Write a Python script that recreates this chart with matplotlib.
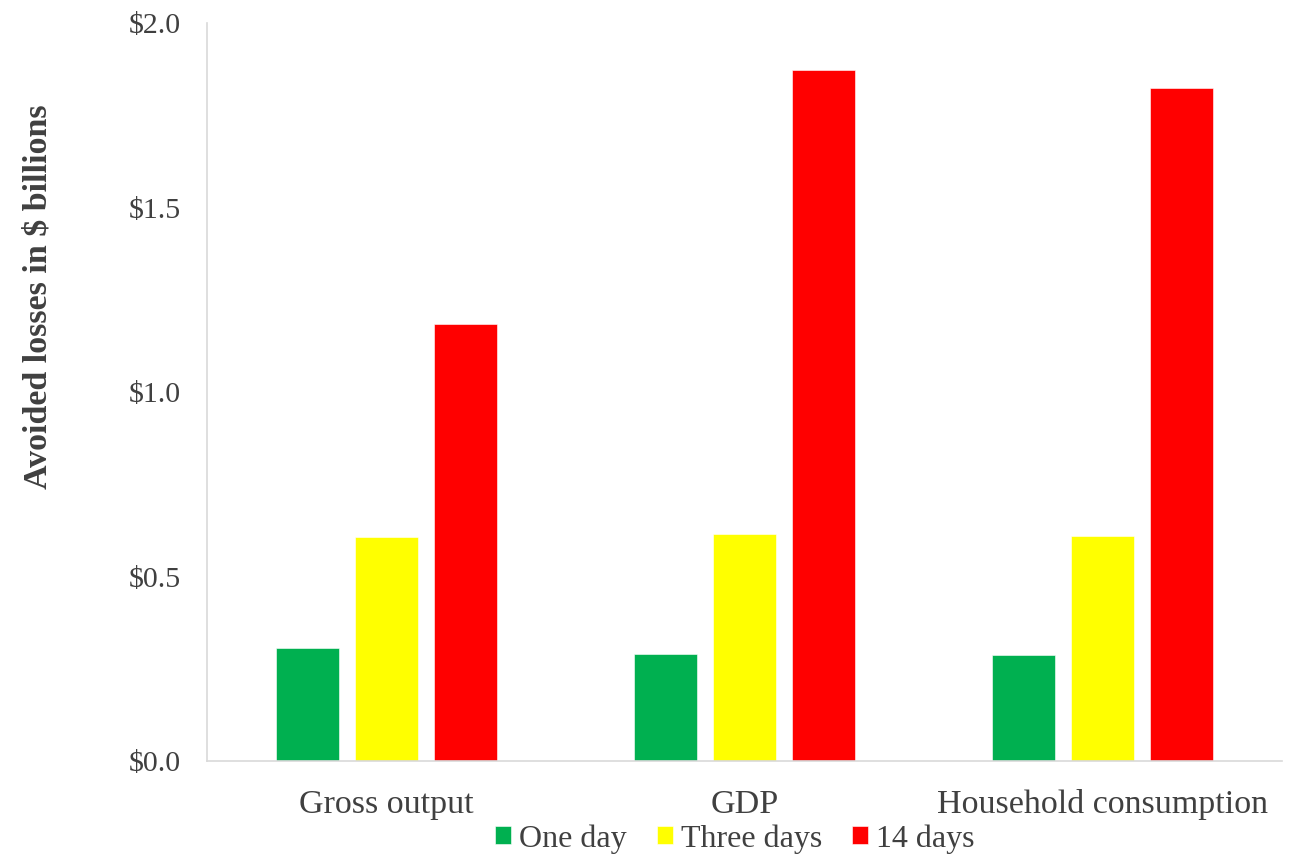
import matplotlib
matplotlib.use("Agg")
import matplotlib.pyplot as plt
import numpy as np
from matplotlib.ticker import FuncFormatter

categories = ["Gross output", "GDP", "Household consumption"]
series_names = ["One day", "Three days", "14 days"]
one_day = [0.306, 0.291, 0.287]
three_days = [0.607, 0.615, 0.609]
fourteen_days = [1.184, 1.875, 1.826]
colors = ["#00B050", "#FFFF00", "#FF0000"]
yticks = [0.0, 0.5, 1.0, 1.5, 2.0]

plt.rcParams["font.family"] = ["Liberation Serif", "DejaVu Serif"]
text_color = "#404040"

fig = plt.figure(figsize=(12.96, 8.57), dpi=100)
ax = fig.add_axes([0.1597, 0.112, 0.9892 - 0.1597, 0.9726 - 0.112])

x = np.arange(len(categories))
width = 0.176
step = 0.2205
for i, (vals, name, col) in enumerate(zip([one_day, three_days, fourteen_days], series_names, colors)):
    ax.bar(x + (i - 1) * step, vals, width=width, color=col, label=name,
           edgecolor="white", linewidth=0.4)

ax.set_xlim(-0.5, len(categories) - 0.5)
ax.set_ylim(0, 2.0)
ax.set_yticks(yticks)
ax.yaxis.set_major_formatter(FuncFormatter(lambda v, p: f"${v:.1f}"))
ax.set_xticks(x)
ax.set_xticklabels(categories)

ax.tick_params(axis="both", length=0, colors=text_color)
ax.tick_params(axis="y", pad=19, labelsize=21.5)
ax.tick_params(axis="x", pad=20.5, labelsize=24.5)

for s in ["top", "right"]:
    ax.spines[s].set_visible(False)
for s in ["left", "bottom"]:
    ax.spines[s].set_color("#d9d9d9")
    ax.spines[s].set_linewidth(1.2)

fig.text(38 / 1296, 1 - 297 / 857, "Avoided losses in $ billions", rotation=90,
         ha="center", va="center", fontsize=24.5, fontweight="bold", color=text_color)

leg = ax.legend(loc="center", bbox_to_anchor=(0.491, -0.1055), ncol=3, frameon=False,
                fontsize=23, handlelength=0.5, handleheight=0.5, handletextpad=0.25,
                columnspacing=0.95, borderaxespad=0)
for t in leg.get_texts():
    t.set_color(text_color)

fig.savefig("out.png", dpi=100, facecolor="white")
